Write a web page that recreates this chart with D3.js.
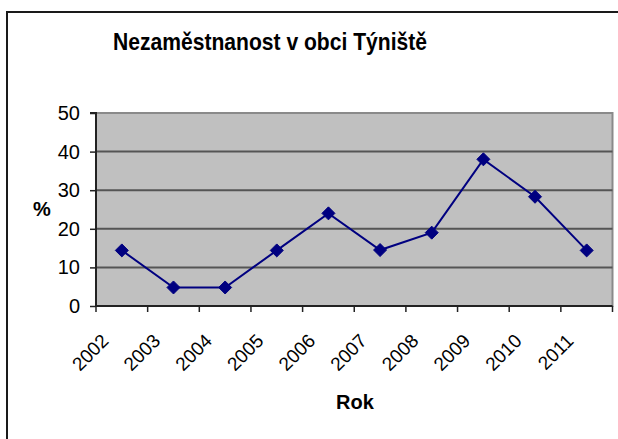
<!DOCTYPE html>
<html>
<head>
<meta charset="utf-8">
<script src="https://cdn.jsdelivr.net/npm/d3@7"></script>
<style>
  body { margin: 0; background: #fff; }
  svg { display: block; font-family: "Liberation Sans", Arial, sans-serif; }
</style>
</head>
<body>
<div id="chart"></div>
<script>
// data
const years = ["2002", "2003", "2004", "2005", "2006", "2007", "2008", "2009", "2010", "2011"];
const unemployment = [14.4, 4.8, 4.8, 14.4, 24, 14.5, 19, 38, 28.3, 14.4];
const yTicks = [0, 10, 20, 30, 40, 50];

const width = 618, height = 439;
const plot = {left: 96, right: 612.5, top: 113, bottom: 306};

const svg = d3.select("#chart").append("svg")
    .attr("width", width)
    .attr("height", height);

// outer chart frame (only top and left edges fall inside the picture)
svg.append("path")
    .attr("d", `M7,${height}V12H${width}`)
    .attr("fill", "none")
    .attr("stroke", "#1a1a1a")
    .attr("stroke-width", 2);

let x = d3.scaleBand()
    .domain(years)
    .range([plot.left, plot.right]);

let y = d3.scaleLinear()
    .domain([0, 50])
    .range([plot.bottom, plot.top]);

// plot background
svg.append("rect")
    .attr("x", plot.left)
    .attr("y", plot.top)
    .attr("width", plot.right - plot.left)
    .attr("height", plot.bottom - plot.top)
    .attr("fill", "#c0c0c0")
    .attr("stroke", "#8a8a8a")
    .attr("stroke-width", 2);

// gridlines
svg.append("g")
    .selectAll("line")
    .data(yTicks.filter(d => d > 0 && d < 50))
    .enter().append("line")
    .attr("x1", plot.left)
    .attr("x2", plot.right)
    .attr("y1", d => y(d))
    .attr("y2", d => y(d))
    .attr("stroke", "#555")
    .attr("stroke-width", 2);

// y axis
let yAxis = d3.axisLeft(y)
    .tickValues(yTicks)
    .tickSize(6)
    .tickPadding(10);

let gy = svg.append("g")
    .attr("transform", `translate(${plot.left},0)`)
    .call(yAxis);
gy.select(".domain").attr("stroke", "#222").attr("stroke-width", 2)
    .attr("d", `M-6,${plot.top}H0V${plot.bottom}`);
gy.selectAll(".tick line").attr("stroke", "#222").attr("stroke-width", 1.5);
gy.selectAll(".tick text")
    .attr("font-size", 20)
    .attr("font-family", "Liberation Sans, Arial, sans-serif")
    .attr("fill", "#000");

// x axis: ticks at category boundaries
let gx = svg.append("g");
gx.append("line")
    .attr("x1", plot.left).attr("x2", plot.right)
    .attr("y1", plot.bottom).attr("y2", plot.bottom)
    .attr("stroke", "#222").attr("stroke-width", 2);
let bounds = years.map(d => x(d)).concat([x(years[years.length - 1]) + x.bandwidth()]);
gx.selectAll(".xtick")
    .data(bounds)
    .enter().append("line")
    .attr("class", "xtick")
    .attr("x1", d => d).attr("x2", d => d)
    .attr("y1", plot.bottom).attr("y2", plot.bottom + 6)
    .attr("stroke", "#222").attr("stroke-width", 1.5);
gx.selectAll(".xlabel")
    .data(years)
    .enter().append("text")
    .attr("class", "xlabel")
    .attr("text-anchor", "end")
    .attr("font-size", 19)
    .attr("transform", d => `translate(${x(d) + x.bandwidth() / 2 - 12},${plot.bottom + 36}) rotate(-45)`)
    .text(d => d);

// series line
let line = d3.line()
    .x((d, i) => x(years[i]) + x.bandwidth() / 2)
    .y(d => y(d));

svg.append("path")
    .datum(unemployment)
    .attr("d", line)
    .attr("fill", "none")
    .attr("stroke", "#000080")
    .attr("stroke-width", 2);

svg.append("g")
    .selectAll("path")
    .data(unemployment)
    .enter().append("path")
    .attr("d", "M0,-6.5L6.5,0L0,6.5L-6.5,0Z")
    .attr("transform", (d, i) => `translate(${x(years[i]) + x.bandwidth() / 2},${y(d)})`)
    .attr("fill", "#000080")
    .attr("stroke", "#000080")
    .attr("stroke-width", 1);

// titles
svg.append("text")
    .attr("x", 270)
    .attr("y", 50)
    .attr("text-anchor", "middle")
    .attr("font-size", 24)
    .attr("font-weight", "bold")
    .attr("textLength", 314)
    .attr("lengthAdjust", "spacingAndGlyphs")
    .text("Nezaměstnanost v obci Týniště");

svg.append("text")
    .attr("x", 42)
    .attr("y", 216)
    .attr("text-anchor", "middle")
    .attr("font-size", 20)
    .attr("font-weight", "bold")
    .text("%");

svg.append("text")
    .attr("x", 355)
    .attr("y", 409)
    .attr("text-anchor", "middle")
    .attr("font-size", 20)
    .attr("font-weight", "bold")
    .text("Rok");
</script>
</body>
</html>
